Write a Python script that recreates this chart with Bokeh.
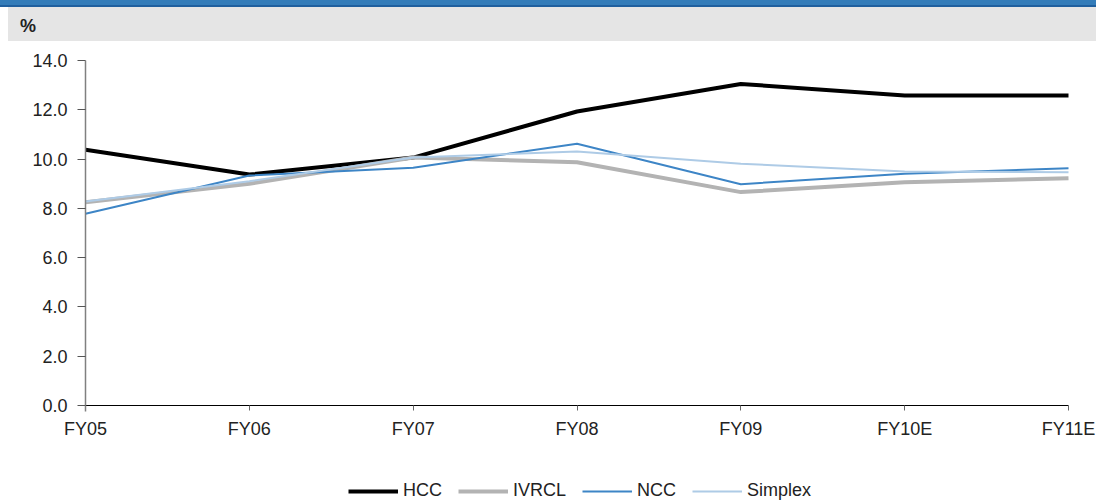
from bokeh.plotting import figure
from bokeh.layouts import column
from bokeh.models import Range1d, FixedTicker, Legend, LegendItem, Div
from bokeh.embed import file_html
from bokeh.resources import INLINE

categories = ["FY05", "FY06", "FY07", "FY08", "FY09", "FY10E", "FY11E"]
hcc = [10.38, 9.37, 10.06, 11.93, 13.05, 12.58, 12.58]
ivrcl = [8.25, 9.0, 10.06, 9.87, 8.66, 9.06, 9.22]
ncc = [7.78, 9.33, 9.65, 10.62, 8.98, 9.4, 9.63]
simplex = [8.28, 9.1, 10.06, 10.31, 9.81, 9.5, 9.47]
y_ticks = [0, 2, 4, 6, 8, 10, 12, 14]
unit_label = "%"

FONT = "Liberation Sans"
xs = list(range(len(categories)))

header = Div(
    text=(
        '<div style="position:relative;width:1096px;height:41px;margin:0;padding:0;">'
        '<div style="position:absolute;left:0;top:0;width:1096px;height:5px;background:#337cb9;"></div>'
        '<div style="position:absolute;left:0;top:5px;width:1096px;height:2px;background:#1f5f9e;"></div>'
        '<div style="position:absolute;left:8px;top:7px;width:1088px;height:34px;background:#e5e5e5;"></div>'
        '<div style="position:absolute;left:20px;top:15px;font-family:\'Liberation Sans\';'
        'font-size:18px;font-weight:bold;color:#222;line-height:22px;">' + unit_label + '</div>'
        '</div>'
    ),
    width=1096, height=41, margin=(0, 0, 0, 0),
)

plot_w = 1096
plot_h = 460
# pixel layout of the axes inside the (full-canvas) frame
left_px, right_px = 85, 1068
top_px, zero_px = 19, 364
px_x = (right_px - left_px) / 6.0
px_y = (zero_px - top_px) / 14.0
x_start = -left_px / px_x
x_end = 6 + (plot_w - right_px) / px_x
y_start = -(plot_h - zero_px) / px_y
y_end = 14 + top_px / px_y

p = figure(width=plot_w, height=plot_h, x_range=Range1d(x_start, x_end),
           y_range=Range1d(y_start, y_end),
           output_backend="svg", toolbar_location=None,
           min_border_left=0, min_border_right=0, min_border_top=0, min_border_bottom=0)
p.grid.visible = False
p.outline_line_color = None
p.background_fill_color = "white"
p.border_fill_color = "white"

p.xaxis.fixed_location = 0
p.xaxis.bounds = (0, 6)
p.xaxis.ticker = FixedTicker(ticks=xs)
p.xaxis.major_label_overrides = {i: c for i, c in enumerate(categories)}
p.xaxis.axis_line_color = "#000000"
p.xaxis.axis_line_width = 1
p.xaxis.major_tick_line_color = "#666666"
p.xaxis.major_tick_out = 5
p.xaxis.major_tick_in = 0
p.xaxis.minor_tick_line_color = None
p.xaxis.major_label_standoff = 8

p.yaxis.fixed_location = 0
p.yaxis.bounds = (-0.25, 14)
p.yaxis.ticker = FixedTicker(ticks=y_ticks)
p.yaxis.major_label_overrides = {t: f"{t:.1f}" for t in y_ticks}
p.yaxis.axis_line_color = "#808080"
p.yaxis.axis_line_width = 1.5
p.yaxis.major_tick_line_color = "#555555"
p.yaxis.major_tick_out = 8
p.yaxis.major_tick_in = 0
p.yaxis.minor_tick_line_color = None
p.yaxis.major_label_standoff = 10

for ax in (p.xaxis, p.yaxis):
    ax.major_label_text_font = FONT
    ax.major_label_text_font_size = "18px"
    ax.major_label_text_color = "#222222"

r1 = p.line(xs, hcc, line_color="#000000", line_width=4)
r2 = p.line(xs, ivrcl, line_color="#b3b3b3", line_width=4)
r3 = p.line(xs, ncc, line_color="#3d85c6", line_width=2)
r4 = p.line(xs, simplex, line_color="#aecbe6", line_width=2)

legend = Legend(items=[LegendItem(label="HCC", renderers=[r1]),
                       LegendItem(label="IVRCL", renderers=[r2]),
                       LegendItem(label="NCC", renderers=[r3]),
                       LegendItem(label="Simplex", renderers=[r4])],
                orientation="horizontal", location=(348, 0),
                glyph_width=50, glyph_height=16, label_standoff=5, spacing=16,
                padding=1, margin=0,
                label_text_font=FONT, label_text_font_size="18px",
                label_text_color="#222222",
                border_line_color=None, background_fill_alpha=0)
p.add_layout(legend, "center")

layout = column(header, p, spacing=0)
open("out.html", "w").write(file_html(layout, INLINE))
